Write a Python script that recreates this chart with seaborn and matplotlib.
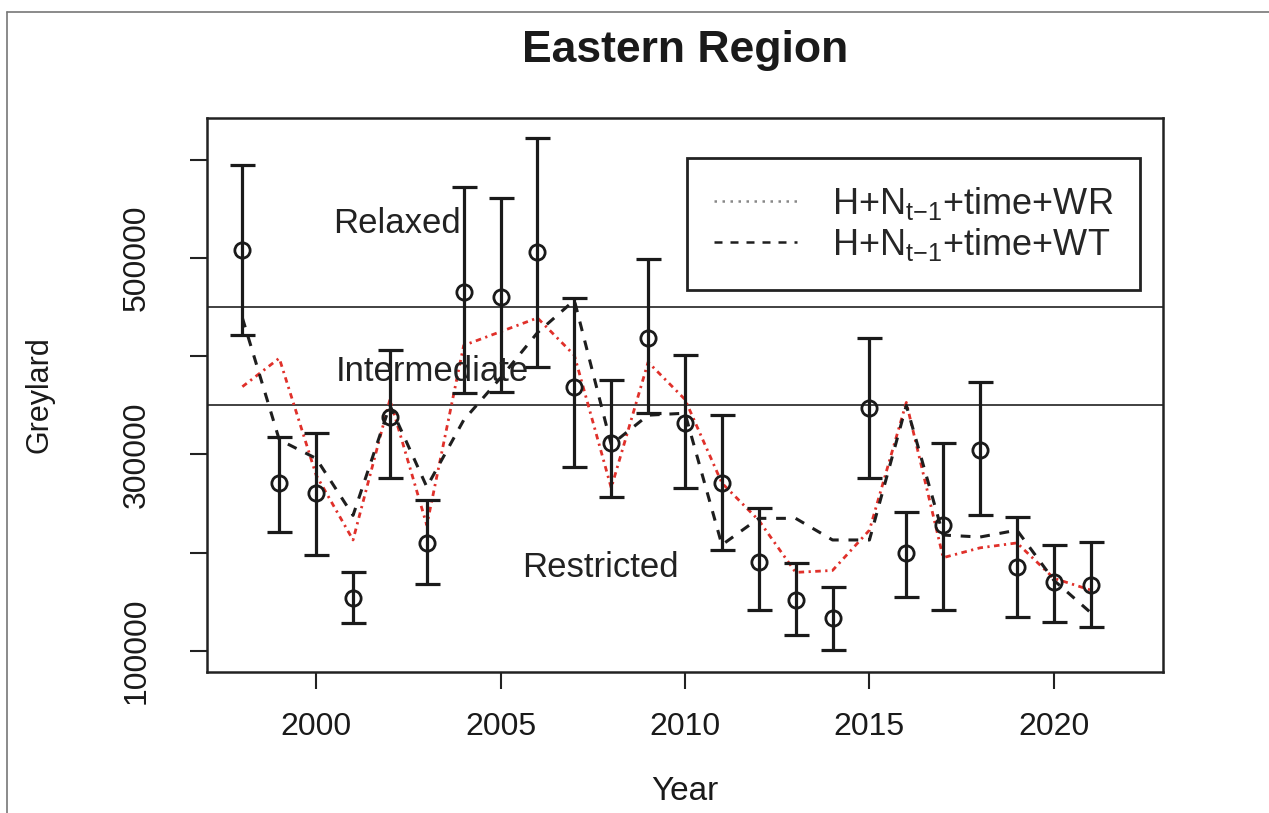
import numpy as np
import pandas as pd
import seaborn as sns
import matplotlib.pyplot as plt
from matplotlib.lines import Line2D

# values in thousands
years = list(range(1998, 2022))
estimate = [508, 271, 261, 154, 338, 210, 465, 460, 506, 369, 312, 419,
            332, 271, 191, 152, 134, 347, 200, 228, 305, 185, 170, 167]
upper = [595, 318, 322, 180, 406, 254, 572, 561, 622, 459, 376, 499,
         401, 340, 246, 190, 165, 419, 241, 312, 374, 236, 208, 211]
lower = [422, 221, 198, 129, 276, 168, 363, 364, 389, 287, 257, 342,
         266, 203, 142, 116, 101, 276, 155, 142, 238, 135, 130, 124]
model_wr = [369, 398, 279, 213, 356, 228, 411, 425, 439, 401, 266, 394,
            356, 271, 233, 180, 182, 223, 353, 195, 205, 210, 174, 162]
model_wt = [439, 315, 296, 238, 350, 267, 335, 378, 424, 457, 310, 340,
            342, 208, 235, 235, 213, 213, 350, 218, 216, 223, 172, 139]

thresholds = [450000, 350000]
zone_names = ["Relaxed", "Intermediate", "Restricted"]
zone_x = [2002.2, 2003.15, 2007.7]
zone_y = [535000, 384000, 185000]

legend_labels = [r"H+N$_{\mathregular{t{-}1}}$+time+WR",
                 r"H+N$_{\mathregular{t{-}1}}$+time+WT"]


def main() -> None:
    df = pd.DataFrame({
        "year": years,
        "est": np.array(estimate) * 1000,
        "hi": np.array(upper) * 1000,
        "lo": np.array(lower) * 1000,
        "wr": np.array(model_wr) * 1000,
        "wt": np.array(model_wt) * 1000,
    })

    sns.set_theme(style="white")
    plt.rcParams["font.family"] = ["Liberation Sans", "DejaVu Sans"]
    plt.rcParams["mathtext.fontset"] = "custom"
    plt.rcParams["mathtext.rm"] = "Liberation Sans"

    fig = plt.figure(figsize=(12.69, 8.13), dpi=100)
    ax = fig.add_axes([0.1631, 0.1734, 0.7534, 0.6815])

    for t in thresholds:
        ax.axhline(t, color="#333333", lw=1.3, zorder=1)

    sns.lineplot(data=df, x="year", y="wr", ax=ax, color="#e0302a",
                 lw=2.0, linestyle=(0, (2.0, 1.6, 0.8, 1.6)), zorder=2)
    sns.lineplot(data=df, x="year", y="wt", ax=ax, color="#1e1e1e",
                 lw=2.2, linestyle=(0, (3.2, 3.2)), zorder=2)

    ax.errorbar(df["year"], df["est"],
                yerr=[df["est"] - df["lo"], df["hi"] - df["est"]],
                fmt="none", ecolor="#1a1a1a", elinewidth=2.3,
                capsize=9, capthick=2.3, zorder=3)
    ax.plot(df["year"], df["est"], "o", ms=11, mfc="none", mec="#1a1a1a",
            mew=2.0, zorder=4)

    for name, x, y in zip(zone_names, zone_x, zone_y):
        ax.text(x, y, name, fontsize=25, color="#222222",
                ha="center", va="center", zorder=5)

    handles = [
        Line2D([], [], color="#888888", lw=1.8, linestyle=(0, (1, 2.2))),
        Line2D([], [], color="#1e1e1e", lw=1.8, linestyle=(0, (3.2, 3.2))),
    ]
    leg = ax.legend(handles, legend_labels, loc="upper right",
                    bbox_to_anchor=(0.976, 0.928), fontsize=26,
                    frameon=True, fancybox=False, edgecolor="#222222",
                    framealpha=1, handlelength=2.3, handletextpad=0.95,
                    borderpad=0.75, labelspacing=0.1, borderaxespad=0)
    leg.get_frame().set_linewidth(2.0)

    ax.set_xlim(1997.04, 2022.96)
    ax.set_ylim(78600, 642500)
    ax.set_xticks([2000, 2005, 2010, 2015, 2020])
    ax.set_yticks([100000, 200000, 300000, 400000, 500000, 600000])
    ax.set_yticklabels(["100000", "", "300000", "", "500000", ""],
                       rotation=90, va="center")

    ax.tick_params(axis="both", which="major", direction="out", length=12,
                   width=1.5, color="#222222", labelsize=23,
                   labelcolor="#1a1a1a", bottom=True, left=True)
    ax.tick_params(axis="x", pad=17)
    ax.tick_params(axis="y", pad=28)

    for side in ax.spines.values():
        side.set_visible(True)
        side.set_color("#222222")
        side.set_linewidth(1.8)

    ax.set_xlabel("Year", fontsize=24, color="#1a1a1a", labelpad=24)
    ax.set_ylabel("Greylard", fontsize=22, color="#1a1a1a", labelpad=48)
    ax.set_title("Eastern Region", fontsize=32, fontweight="bold",
                 color="#1a1a1a", pad=40)

    # scan frame
    fig.add_artist(Line2D([0.0055, 1.0], [0.985, 0.985], color="#777777",
                          lw=1.2, transform=fig.transFigure))
    fig.add_artist(Line2D([0.0055, 0.0055], [0.0, 0.985], color="#777777",
                          lw=1.2, transform=fig.transFigure))

    fig.savefig("out.png", dpi=100, facecolor="white")
    plt.close(fig)


if __name__ == "__main__":
    main()
